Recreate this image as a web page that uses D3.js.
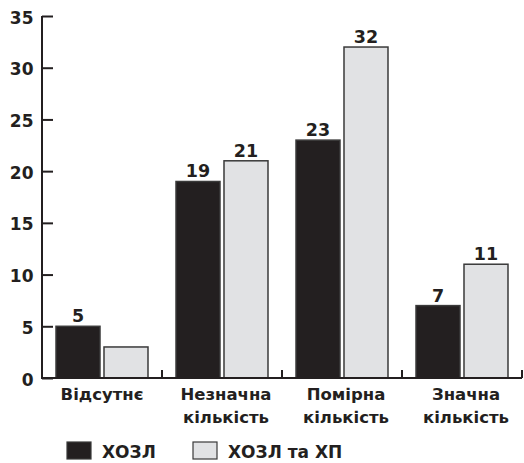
<!DOCTYPE html>
<html>
<head>
<meta charset="utf-8">
<script src="https://cdn.jsdelivr.net/npm/d3@7"></script>
<style>
  html, body { margin: 0; padding: 0; background: #fff; }
  svg { display: block; }
  svg text { font-family: "DejaVu Sans", "Liberation Sans", Arial, sans-serif; font-weight: 700; fill: #231f20; }
</style>
</head>
<body>
<svg id="chart" width="524" height="463"></svg>
<script>
// Categories (multi-line labels) and series values
const categories = [
  ["Відсутнє"],
  ["Незначна", "кількість"],
  ["Помірна", "кількість"],
  ["Значна", "кількість"]
];
const seriesNames = ["ХОЗЛ", "ХОЗЛ та ХП"];
const copdValues = [5, 19, 23, 7];
const copdCpValues = [3, 21, 32, 11];
// Value labels shown above bars (null = no label)
const copdLabels = [5, 19, 23, 7];
const copdCpLabels = [null, 21, 32, 11];
const yTicks = [0, 5, 10, 15, 20, 25, 30, 35];

const colors = ["#231f20", "#e1e2e4"];
const svg = d3.select("#chart");

const x0 = d3.scaleBand().domain(d3.range(categories.length)).range([42, 522]).padding(0);
const x1 = d3.scaleBand().domain([0, 1]).range([0, x0.bandwidth()])
  .paddingInner(0.0833).paddingOuter(0.2917);
const y = d3.scaleLinear().domain([0, 35]).range([378, 16]);

const series = [copdValues, copdCpValues];
const labels = [copdLabels, copdCpLabels];

// Bars and value labels
series.forEach((vals, s) => {
  svg.append("g").selectAll("rect").data(vals).join("rect")
    .attr("x", (d, i) => x0(i) + x1(s))
    .attr("y", d => y(d))
    .attr("width", x1.bandwidth())
    .attr("height", d => y(0) - y(d))
    .attr("fill", colors[s])
    .attr("stroke", "#3a3a3a")
    .attr("stroke-width", 1.5);
  svg.append("g").selectAll("text")
    .data(vals.map((d, i) => ({ v: d, l: labels[s][i], i })).filter(d => d.l !== null))
    .join("text")
    .attr("x", d => x0(d.i) + x1(s) + x1.bandwidth() / 2)
    .attr("y", d => y(d.v) - 4)
    .attr("text-anchor", "middle")
    .attr("font-size", 17.5)
    .text(d => d.l);
});

// Y axis (ticks pointing inward)
const yAxis = d3.axisRight(y).tickValues(yTicks).tickSize(11).tickFormat("");
const yg = svg.append("g").attr("transform", "translate(42,0)").call(yAxis);
yg.select(".domain").attr("d", `M0,${y(35)}V${y(0)}`).attr("stroke", "#231f20").attr("stroke-width", 2);
yg.selectAll(".tick line").attr("stroke", "#231f20").attr("stroke-width", 2);
svg.append("g").selectAll("text").data(yTicks).join("text")
  .attr("x", 33.5)
  .attr("y", d => y(d) + 7.5)
  .attr("text-anchor", "end")
  .attr("font-size", 17)
  .text(d => d);

// X axis with ticks between categories
const xg = svg.append("g");
xg.append("line").attr("x1", 41).attr("x2", 522).attr("y1", y(0)).attr("y2", y(0))
  .attr("stroke", "#231f20").attr("stroke-width", 2);
xg.selectAll("line.tk").data(d3.range(1, categories.length + 1)).join("line")
  .attr("class", "tk")
  .attr("x1", i => x0(0) + i * x0.step()).attr("x2", i => x0(0) + i * x0.step())
  .attr("y1", y(0)).attr("y2", y(0) - 8)
  .attr("stroke", "#231f20").attr("stroke-width", 2);

// Category labels
const cl = svg.append("g").selectAll("text").data(categories).join("text")
  .attr("text-anchor", "middle")
  .attr("font-size", 16.5);
cl.selectAll("tspan").data((d, i) => d.map(t => ({ t, i }))).join("tspan")
  .attr("x", d => x0(d.i) + x0.bandwidth() / 2 + (d.i === 0 ? 0 : 4))
  .attr("y", (d, j) => 400 + j * 23)
  .text(d => d.t);

// Legend
const legendX = [67, 193];
const lg = svg.append("g");
seriesNames.forEach((name, s) => {
  lg.append("rect")
    .attr("x", legendX[s]).attr("y", 442).attr("width", 24).attr("height", 17)
    .attr("fill", colors[s]).attr("stroke", "#3a3a3a").attr("stroke-width", 1.2);
  lg.append("text")
    .attr("x", legendX[s] + (s === 0 ? 35 : 35)).attr("y", 458)
    .attr("font-size", 17)
    .text(name);
});
</script>
</body>
</html>
